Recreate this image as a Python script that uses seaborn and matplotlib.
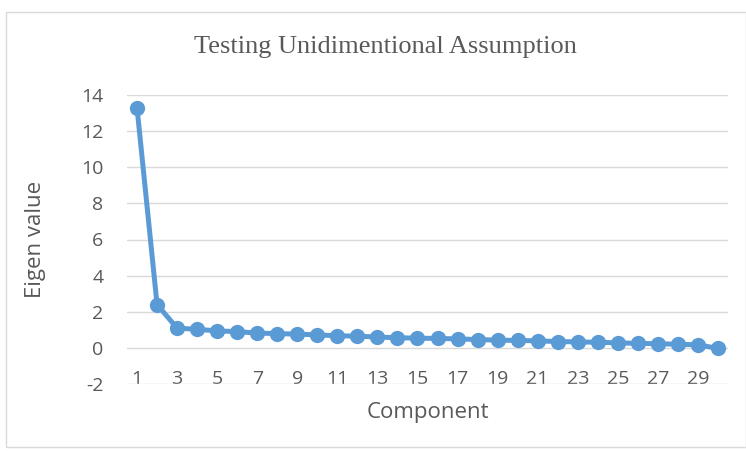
import matplotlib
matplotlib.use("Agg")
import matplotlib.pyplot as plt
import seaborn as sns
import pandas as pd
from matplotlib.patches import Rectangle

components = list(range(1, 31))
eigen_values = [13.3, 2.4, 1.09, 1.03, 0.94, 0.90, 0.82, 0.79, 0.76, 0.72,
                0.67, 0.65, 0.60, 0.56, 0.54, 0.52, 0.50, 0.46, 0.43, 0.41,
                0.39, 0.35, 0.33, 0.31, 0.28, 0.25, 0.23, 0.20, 0.17, -0.03]
x_tick_labels = [str(c) for c in components if c % 2 == 1]
y_ticks = [-2, 0, 2, 4, 6, 8, 10, 12, 14]

df = pd.DataFrame({"Component": components, "Eigen value": eigen_values})

sns.set_theme(style="white")
fig = plt.figure(figsize=(7.46, 4.51), dpi=100)
ax = fig.add_axes([127 / 746, 1 - 384 / 451, (728 - 127) / 746, (384 - 95) / 451])

blue = "#5B9BD5"
grey = "#595959"
sns.lineplot(data=df, x="Component", y="Eigen value", ax=ax, color=blue,
             linewidth=3.6, marker="o", markersize=11, markeredgewidth=0)

ax.set_xlim(0.5, 30.5)
ax.set_ylim(-2, 14)
ax.set_yticks(y_ticks)
ax.set_yticklabels([str(v) for v in y_ticks])
ax.set_xticks([c for c in components if c % 2 == 1])
ax.set_xticklabels(x_tick_labels)
ax.grid(axis="y", color="#D9D9D9", linewidth=1)
ax.grid(axis="x", visible=False)
for s in ax.spines.values():
    s.set_visible(False)
ax.tick_params(axis="x", length=0, pad=-10, labelsize=14, labelcolor=grey)
ax.tick_params(axis="y", length=0, pad=17, labelsize=14, labelcolor=grey)
for lab in ax.get_yticklabels() + ax.get_xticklabels():
    lab.set_family(["Open Sans", "DejaVu Sans"])

ax.set_xlabel("Component", fontsize=16, color=grey, family=["Open Sans", "DejaVu Sans"], labelpad=10)
ax.set_ylabel("Eigen value", fontsize=16, color=grey, family=["Open Sans", "DejaVu Sans"], labelpad=25)
fig.text(385 / 746, 1 - 47 / 451, "Testing Unidimentional Assumption", ha="center", va="center",
         fontsize=19, color=grey, family=["Liberation Serif", "DejaVu Serif"])

fig.patches.append(Rectangle((6 / 746, 1 - 447 / 451), 740 / 746, (447 - 12) / 451,
                             transform=fig.transFigure, fill=False,
                             edgecolor="#D9D9D9", linewidth=1))

fig.savefig("out.png", dpi=100)
